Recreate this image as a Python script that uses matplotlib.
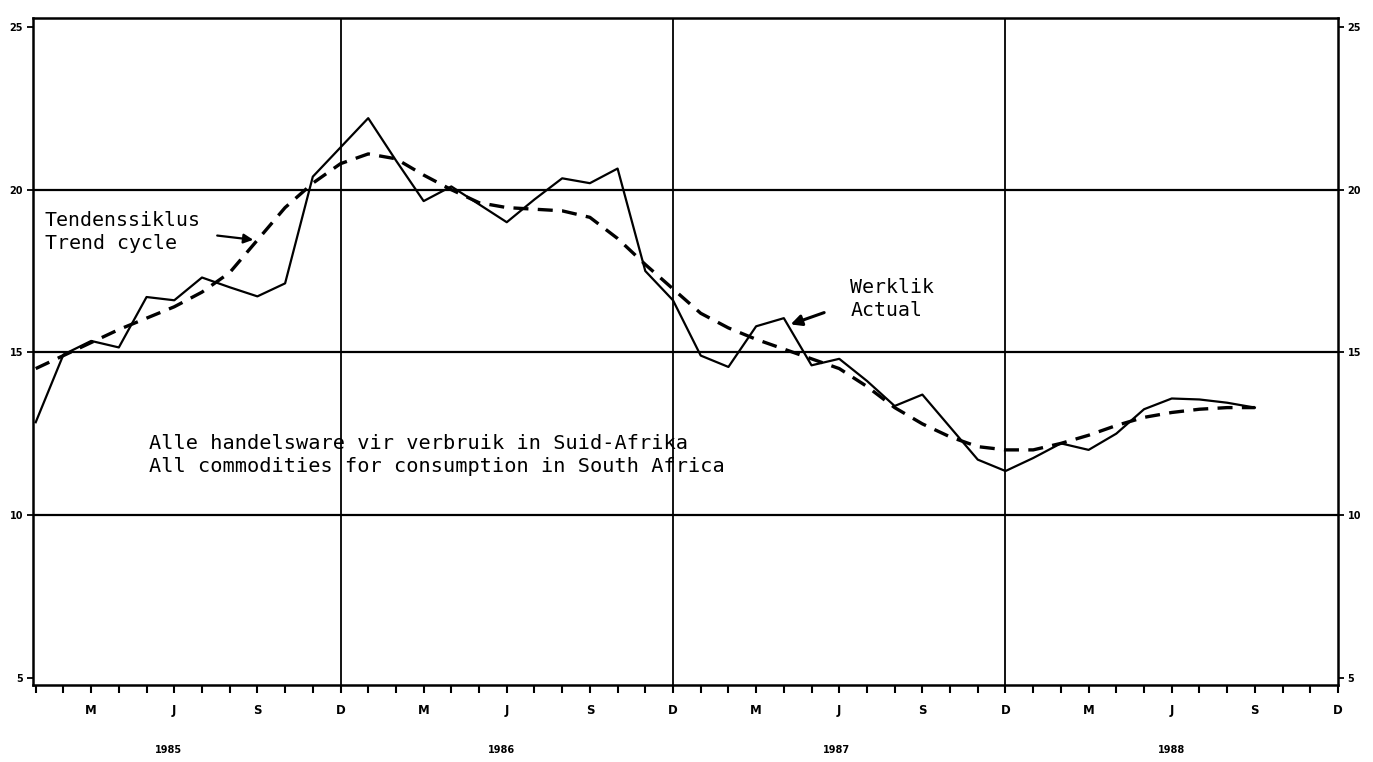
"""Trend cycle vs actual: all commodities for consumption in South Africa"""

import numpy as np
import matplotlib
matplotlib.use("Agg")
import matplotlib.pyplot as plt

# monthly values, Jan 1985 .. Sep 1988
actual = [12.85, 14.93, 15.35, 15.15, 16.7, 16.6, 17.3, 17.0, 16.72, 17.12, 20.4, 21.3,
          22.2, 20.9, 19.65, 20.1, 19.55, 19.0, 19.7, 20.35, 20.2, 20.65, 17.5, 16.6,
          14.9, 14.55, 15.8, 16.05, 14.6, 14.8, 14.12, 13.35, 13.7, 12.7, 11.7, 11.35,
          11.75, 12.2, 12.0, 12.5, 13.25, 13.58, 13.55, 13.45, 13.3]
trend = [14.5, 14.9, 15.3, 15.7, 16.05, 16.4, 16.85, 17.45, 18.45, 19.45, 20.2, 20.8,
         21.1, 20.95, 20.45, 20.0, 19.6, 19.45, 19.4, 19.35, 19.15, 18.5, 17.7, 16.95,
         16.2, 15.75, 15.4, 15.1, 14.8, 14.5, 13.95, 13.3, 12.8, 12.4, 12.1, 12.0,
         12.0, 12.2, 12.45, 12.75, 13.0, 13.15, 13.25, 13.3, 13.3]
months = np.arange(1, len(actual) + 1)

y_ticks = [5, 10, 15, 20, 25]
grid_y = [10, 15, 20]
grid_x = [12, 24, 36]
month_ticks = [3, 6, 9, 12, 15, 18, 21, 24, 27, 30, 33, 36, 39, 42, 45, 48]
month_labels = ["M", "J", "S", "D"] * 4
years = ["1985", "1986", "1987", "1988"]
year_pos = [5.8, 17.8, 29.9, 42.0]

MONO = "DejaVu Sans Mono"

fig = plt.figure(figsize=(13.73, 7.62), dpi=100)
ax = fig.add_axes([0.024, 0.101, 0.9505, 0.875])

for gy in grid_y:
    ax.axhline(gy, color="black", lw=1.6, zorder=1)
for gx in grid_x:
    ax.axvline(gx, color="black", lw=1.3, zorder=1)

ax.plot(months, actual, color="black", lw=1.6, zorder=3)
ax.plot(months, trend, color="black", lw=2.4, dashes=(4.5, 2.8), zorder=3)

ax.set_xlim(0.9, 48)
ax.set_ylim(4.77, 25.27)
ax.set_yticks(y_ticks)
ax.set_yticklabels([str(v) for v in y_ticks], fontsize=7, fontweight="bold")
ax.set_xticks(month_ticks)
ax.set_xticklabels(month_labels, fontsize=8.5, fontweight="bold")
ax.set_xticks(np.arange(1, 49), minor=True)
ax.tick_params(axis="y", which="both", direction="out", length=4, width=1.3,
               left=True, right=True, labelleft=True, labelright=True, pad=3)
ax.tick_params(axis="x", which="both", direction="out", length=6, width=1.5, pad=8)

for side in ax.spines.values():
    side.set_linewidth(1.8)

for yr, xp in zip(years, year_pos):
    ax.text(xp, -0.097, yr, transform=ax.get_xaxis_transform(), ha="center",
            va="center", fontsize=7, fontweight="bold")

ax.text(1.33, 19.35, "Tendenssiklus\nTrend cycle", family=MONO, fontsize=14.3,
        va="top", ha="left", linespacing=1.3)
ax.annotate("", xy=(8.95, 18.45), xytext=(7.45, 18.6),
            arrowprops={"arrowstyle": "-|>", "color": "black", "lw": 1.6,
                        "mutation_scale": 14})

ax.text(30.4, 17.3, "Werklik\nActual", family=MONO, fontsize=14.3,
        va="top", ha="left", linespacing=1.3)
ax.annotate("", xy=(28.15, 15.83), xytext=(29.55, 16.25),
            arrowprops={"arrowstyle": "-|>", "color": "black", "lw": 2.2,
                        "mutation_scale": 16})

ax.text(5.1, 12.5, "Alle handelsware vir verbruik in Suid-Afrika\n"
        "All commodities for consumption in South Africa", family=MONO,
        fontsize=14.6, va="top", ha="left", linespacing=1.3)

plt.savefig("out.png", dpi=100)
